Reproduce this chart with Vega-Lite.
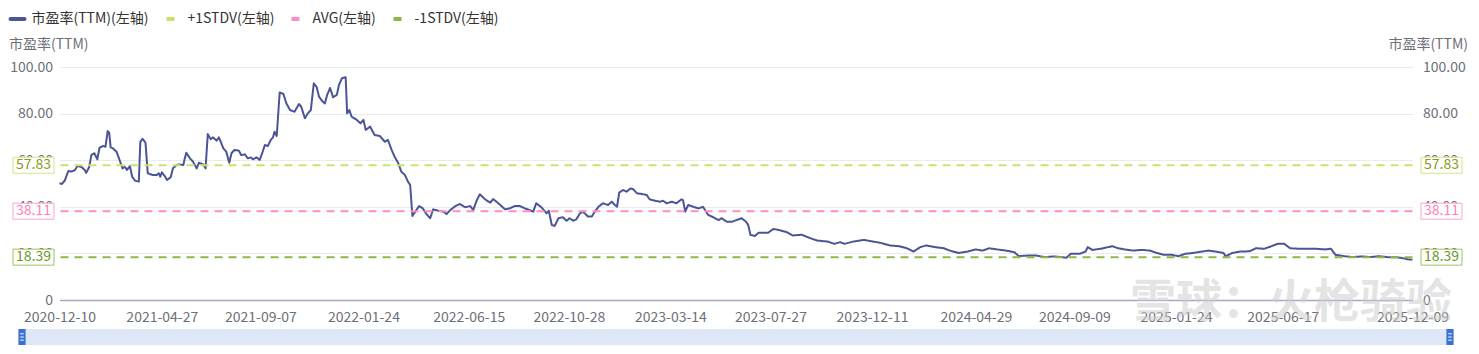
{
  "$schema": "https://vega.github.io/schema/vega-lite/v6.json",
  "padding": {"left": 8, "top": 10, "right": 0, "bottom": 0},
  "background": "white",
  "title": {"text": "雪球：火枪骑验", "orient": "bottom", "anchor": "start", "frame": "group", "offset": 0, "dy": -64, "dx": 1108, "fontSize": 46, "font": "Noto Sans CJK SC", "fontWeight": "bold", "color": "rgba(205,205,205,0.55)", "baseline": "top"},
  "datasets": {
    "pe": [
      {"date":"2020-12-10","pe":50.1},{"date":"2020-12-13","pe":49.8},{"date":"2020-12-17","pe":51.2},{"date":"2020-12-22","pe":55.4},{"date":"2020-12-26","pe":55.1},{"date":"2020-12-31","pe":55.8},
      {"date":"2021-01-03","pe":57.5},{"date":"2021-01-09","pe":57.0},{"date":"2021-01-13","pe":55.8},{"date":"2021-01-15","pe":54.6},{"date":"2021-01-19","pe":57.0},{"date":"2021-01-22","pe":62.2},{"date":"2021-01-26","pe":63.0},{"date":"2021-01-30","pe":60.4},
      {"date":"2021-02-02","pe":65.4},{"date":"2021-02-07","pe":66.1},{"date":"2021-02-10","pe":65.8},{"date":"2021-02-13","pe":72.5},{"date":"2021-02-15","pe":71.8},{"date":"2021-02-17","pe":65.5},{"date":"2021-02-20","pe":65.1},{"date":"2021-02-25","pe":63.6},
      {"date":"2021-03-01","pe":60.1},{"date":"2021-03-05","pe":56.5},{"date":"2021-03-08","pe":57.2},{"date":"2021-03-11","pe":55.8},{"date":"2021-03-15","pe":57.5},{"date":"2021-03-18","pe":52.9},{"date":"2021-03-22","pe":51.2},{"date":"2021-03-27","pe":50.8},{"date":"2021-03-29","pe":67.9},
      {"date":"2021-04-01","pe":69.2},{"date":"2021-04-05","pe":67.5},{"date":"2021-04-08","pe":54.4},{"date":"2021-04-15","pe":53.6},{"date":"2021-04-20","pe":53.6},{"date":"2021-04-23","pe":54.4},{"date":"2021-04-25","pe":52.9},{"date":"2021-04-27","pe":54.8},
      {"date":"2021-05-01","pe":53.2},{"date":"2021-05-04","pe":51.5},{"date":"2021-05-09","pe":52.7},{"date":"2021-05-12","pe":56.5},{"date":"2021-05-17","pe":57.9},{"date":"2021-05-21","pe":58.2},{"date":"2021-05-26","pe":57.9},{"date":"2021-05-28","pe":60.8},{"date":"2021-05-30","pe":63.2},
      {"date":"2021-06-04","pe":60.8},{"date":"2021-06-08","pe":59.4},{"date":"2021-06-13","pe":56.5},{"date":"2021-06-16","pe":58.9},{"date":"2021-06-22","pe":58.2},{"date":"2021-06-25","pe":56.5},{"date":"2021-06-28","pe":71.2},
      {"date":"2021-07-02","pe":69.0},{"date":"2021-07-05","pe":69.8},{"date":"2021-07-10","pe":68.4},{"date":"2021-07-13","pe":69.8},{"date":"2021-07-19","pe":65.1},{"date":"2021-07-23","pe":63.6},{"date":"2021-07-27","pe":58.9},{"date":"2021-07-30","pe":63.0},
      {"date":"2021-08-03","pe":64.4},{"date":"2021-08-09","pe":64.1},{"date":"2021-08-12","pe":62.2},{"date":"2021-08-17","pe":62.5},{"date":"2021-08-21","pe":60.8},{"date":"2021-08-25","pe":61.2},{"date":"2021-08-28","pe":60.4},
      {"date":"2021-09-02","pe":61.2},{"date":"2021-09-06","pe":60.1},{"date":"2021-09-10","pe":63.6},{"date":"2021-09-13","pe":66.5},{"date":"2021-09-17","pe":66.1},{"date":"2021-09-21","pe":68.7},{"date":"2021-09-24","pe":69.8},{"date":"2021-09-26","pe":72.2},{"date":"2021-09-29","pe":70.4},
      {"date":"2021-10-03","pe":89.1},{"date":"2021-10-08","pe":88.4},{"date":"2021-10-12","pe":84.4},{"date":"2021-10-17","pe":81.5},{"date":"2021-10-23","pe":80.8},{"date":"2021-10-29","pe":84.1},
      {"date":"2021-11-01","pe":83.0},{"date":"2021-11-06","pe":78.0},{"date":"2021-11-10","pe":80.1},{"date":"2021-11-14","pe":81.5},{"date":"2021-11-18","pe":93.0},{"date":"2021-11-22","pe":91.3},{"date":"2021-11-25","pe":87.3},{"date":"2021-11-30","pe":85.1},
      {"date":"2021-12-03","pe":84.4},{"date":"2021-12-06","pe":88.0},{"date":"2021-12-10","pe":91.0},{"date":"2021-12-14","pe":87.0},{"date":"2021-12-19","pe":88.0},{"date":"2021-12-22","pe":92.3},{"date":"2021-12-26","pe":95.2},{"date":"2021-12-31","pe":95.6},
      {"date":"2022-01-02","pe":80.1},{"date":"2022-01-05","pe":81.5},{"date":"2022-01-08","pe":78.7},{"date":"2022-01-15","pe":77.3},{"date":"2022-01-20","pe":75.8},{"date":"2022-01-24","pe":77.3},{"date":"2022-01-27","pe":73.0},
      {"date":"2022-02-02","pe":74.4},{"date":"2022-02-08","pe":70.8},{"date":"2022-02-15","pe":70.4},{"date":"2022-02-22","pe":67.9},{"date":"2022-02-26","pe":68.7},
      {"date":"2022-03-03","pe":64.4},{"date":"2022-03-07","pe":61.5},{"date":"2022-03-12","pe":58.7},{"date":"2022-03-16","pe":55.1},{"date":"2022-03-21","pe":53.6},{"date":"2022-03-25","pe":50.8},{"date":"2022-03-28","pe":49.4},{"date":"2022-03-31","pe":36.1},
      {"date":"2022-04-03","pe":37.5},{"date":"2022-04-09","pe":40.3},{"date":"2022-04-14","pe":39.3},{"date":"2022-04-19","pe":36.9},{"date":"2022-04-24","pe":35.1},{"date":"2022-04-28","pe":38.9},
      {"date":"2022-05-05","pe":38.3},{"date":"2022-05-12","pe":37.9},{"date":"2022-05-16","pe":36.9},{"date":"2022-05-21","pe":38.6},{"date":"2022-05-28","pe":40.3},
      {"date":"2022-06-03","pe":41.2},{"date":"2022-06-10","pe":39.8},{"date":"2022-06-17","pe":40.3},{"date":"2022-06-21","pe":38.6},{"date":"2022-06-26","pe":42.9},{"date":"2022-06-30","pe":45.4},
      {"date":"2022-07-07","pe":43.2},{"date":"2022-07-14","pe":41.8},{"date":"2022-07-18","pe":43.3},{"date":"2022-07-25","pe":41.5},
      {"date":"2022-08-03","pe":38.9},{"date":"2022-08-09","pe":39.3},{"date":"2022-08-16","pe":40.3},{"date":"2022-08-23","pe":40.3},{"date":"2022-08-30","pe":39.3},
      {"date":"2022-09-05","pe":38.6},{"date":"2022-09-10","pe":37.9},{"date":"2022-09-14","pe":41.5},{"date":"2022-09-21","pe":39.8},{"date":"2022-09-28","pe":37.2},
      {"date":"2022-10-01","pe":38.3},{"date":"2022-10-05","pe":32.2},{"date":"2022-10-09","pe":31.8},{"date":"2022-10-14","pe":35.1},{"date":"2022-10-20","pe":35.5},{"date":"2022-10-25","pe":34.0},{"date":"2022-10-29","pe":35.1},
      {"date":"2022-11-03","pe":34.0},{"date":"2022-11-07","pe":34.6},{"date":"2022-11-12","pe":37.2},{"date":"2022-11-16","pe":37.9},{"date":"2022-11-23","pe":35.8},{"date":"2022-11-28","pe":35.8},
      {"date":"2022-12-02","pe":37.9},{"date":"2022-12-07","pe":40.0},{"date":"2022-12-13","pe":41.5},{"date":"2022-12-20","pe":40.8},{"date":"2022-12-25","pe":42.2},{"date":"2022-12-29","pe":40.8},
      {"date":"2023-01-01","pe":40.0},{"date":"2023-01-04","pe":46.1},{"date":"2023-01-09","pe":47.2},{"date":"2023-01-14","pe":46.5},{"date":"2023-01-19","pe":47.9},{"date":"2023-01-23","pe":47.5},{"date":"2023-01-28","pe":45.8},
      {"date":"2023-02-03","pe":45.5},{"date":"2023-02-10","pe":45.1},{"date":"2023-02-14","pe":43.2},{"date":"2023-02-21","pe":42.6},{"date":"2023-02-28","pe":42.2},
      {"date":"2023-03-04","pe":42.6},{"date":"2023-03-09","pe":41.5},{"date":"2023-03-16","pe":42.2},{"date":"2023-03-22","pe":41.5},{"date":"2023-03-29","pe":43.2},{"date":"2023-03-31","pe":42.9},
      {"date":"2023-04-03","pe":37.9},{"date":"2023-04-07","pe":40.8},{"date":"2023-04-14","pe":40.0},{"date":"2023-04-21","pe":39.3},{"date":"2023-04-27","pe":40.0},
      {"date":"2023-05-04","pe":36.5},{"date":"2023-05-11","pe":35.5},{"date":"2023-05-18","pe":34.3},{"date":"2023-05-22","pe":35.1},{"date":"2023-05-29","pe":33.6},
      {"date":"2023-06-05","pe":33.6},{"date":"2023-06-11","pe":34.3},{"date":"2023-06-18","pe":35.1},{"date":"2023-06-24","pe":33.6},{"date":"2023-06-27","pe":32.2},{"date":"2023-06-30","pe":27.9},
      {"date":"2023-07-06","pe":27.5},{"date":"2023-07-11","pe":28.9},{"date":"2023-07-17","pe":28.9},{"date":"2023-07-24","pe":28.9},{"date":"2023-07-31","pe":30.5},
      {"date":"2023-08-08","pe":30.0},{"date":"2023-08-18","pe":29.1},{"date":"2023-08-26","pe":27.7},{"date":"2023-09-07","pe":28.0},{"date":"2023-09-19","pe":26.5},{"date":"2023-09-28","pe":25.5},
      {"date":"2023-10-12","pe":25.1},{"date":"2023-10-21","pe":24.1},{"date":"2023-10-29","pe":24.8},{"date":"2023-11-04","pe":24.1},{"date":"2023-11-16","pe":25.1},{"date":"2023-11-30","pe":25.8},
      {"date":"2023-12-12","pe":25.1},{"date":"2023-12-23","pe":24.5},{"date":"2024-01-04","pe":23.4},{"date":"2024-01-16","pe":23.1},{"date":"2024-01-27","pe":22.2},
      {"date":"2024-02-05","pe":20.8},{"date":"2024-02-14","pe":22.7},{"date":"2024-02-22","pe":23.4},{"date":"2024-03-05","pe":22.7},{"date":"2024-03-17","pe":22.2},{"date":"2024-03-25","pe":21.2},
      {"date":"2024-04-06","pe":20.2},{"date":"2024-04-18","pe":20.8},{"date":"2024-04-29","pe":21.7},{"date":"2024-05-08","pe":21.2},{"date":"2024-05-17","pe":22.2},{"date":"2024-05-28","pe":21.7},
      {"date":"2024-06-09","pe":21.2},{"date":"2024-06-20","pe":20.5},{"date":"2024-06-26","pe":18.8},{"date":"2024-07-08","pe":19.1},{"date":"2024-07-19","pe":19.1},{"date":"2024-07-31","pe":18.4},
      {"date":"2024-08-12","pe":18.7},{"date":"2024-08-23","pe":18.4},{"date":"2024-08-29","pe":18.1},{"date":"2024-09-04","pe":19.8},{"date":"2024-09-16","pe":19.8},{"date":"2024-09-24","pe":20.8},{"date":"2024-09-27","pe":22.7},
      {"date":"2024-10-03","pe":21.5},{"date":"2024-10-15","pe":22.0},{"date":"2024-10-30","pe":23.1},{"date":"2024-11-07","pe":22.2},{"date":"2024-11-16","pe":21.7},{"date":"2024-11-27","pe":21.2},
      {"date":"2024-12-09","pe":21.5},{"date":"2024-12-20","pe":21.2},{"date":"2024-12-29","pe":20.2},{"date":"2025-01-07","pe":19.4},{"date":"2025-01-18","pe":19.4},{"date":"2025-01-27","pe":18.8},
      {"date":"2025-02-05","pe":19.8},{"date":"2025-02-16","pe":20.2},{"date":"2025-02-28","pe":20.8},{"date":"2025-03-09","pe":21.2},{"date":"2025-03-18","pe":20.8},{"date":"2025-03-29","pe":20.2},
      {"date":"2025-04-01","pe":18.8},{"date":"2025-04-10","pe":20.2},{"date":"2025-04-21","pe":20.8},{"date":"2025-05-03","pe":20.9},{"date":"2025-05-12","pe":22.2},{"date":"2025-05-23","pe":22.0},
      {"date":"2025-06-01","pe":23.0},{"date":"2025-06-10","pe":24.1},{"date":"2025-06-19","pe":24.1},{"date":"2025-06-27","pe":22.2},{"date":"2025-07-09","pe":22.0},{"date":"2025-07-20","pe":22.0},
      {"date":"2025-08-01","pe":22.0},{"date":"2025-08-13","pe":21.7},{"date":"2025-08-21","pe":22.0},{"date":"2025-08-27","pe":19.4},{"date":"2025-09-08","pe":18.8},{"date":"2025-09-19","pe":18.4},
      {"date":"2025-10-01","pe":18.7},{"date":"2025-10-13","pe":18.4},{"date":"2025-10-25","pe":18.8},{"date":"2025-11-05","pe":18.4},{"date":"2025-11-16","pe":18.4},{"date":"2025-11-25","pe":18.0},
      {"date":"2025-12-04","pe":17.4},{"date":"2025-12-09","pe":17.3}
    ],
    "ref": [
      {"series": "+1STDV(左轴)", "value": 57.83},
      {"series": "AVG(左轴)", "value": 38.11},
      {"series": "-1STDV(左轴)", "value": 18.39}
    ]
  },
  "config": {
    "view": {"stroke": null},
    "font": "Noto Sans CJK SC",
    "axis": {"labelFont": "Noto Sans CJK SC", "titleFont": "Noto Sans CJK SC", "labelColor": "#6e7079", "titleColor": "#6e7079", "labelFontSize": 14, "titleFontSize": 14, "titleFontWeight": "normal"},
    "legend": {
      "orient": "none", "legendX": -13.5, "legendY": -57, "direction": "horizontal",
      "symbolType": "stroke", "symbolSize": 196, "symbolStrokeWidth": 4,
      "labelFont": "Noto Sans CJK SC", "labelFontSize": 14, "labelColor": "#333333",
      "labelOffset": 5, "columnPadding": 9, "padding": 0, "title": null
    }
  },
  "spacing": 29,
  "bounds": "flush",
  "center": true,
  "vconcat": [
    {
      "width": 1353,
      "height": 233,
      "resolve": {"axis": {"y": "independent"}},
      "layer": [
        {
          "data": {"name": "pe"},
          "mark": {"type": "line", "strokeWidth": 2, "strokeJoin": "round"},
          "encoding": {
            "x": {
              "field": "date", "type": "temporal",
              "scale": {"domain": ["2020-12-10", "2025-12-09"], "nice": false},
              "axis": {
                "title": null, "format": "%Y-%m-%d", "labelOverlap": false, "labelFlush": false,
                "values": ["2020-12-10", "2021-04-27", "2021-09-07", "2022-01-24", "2022-06-15", "2022-10-28", "2023-03-14", "2023-07-27", "2023-12-11", "2024-04-29", "2024-09-09", "2025-01-24", "2025-06-17", "2025-12-09"],
                "ticks": false, "grid": false, "domainColor": "#a6a9c2", "domainWidth": 1.5, "labelPadding": 10
              }
            },
            "y": {
              "field": "pe", "type": "quantitative",
              "scale": {"domain": [0, 100], "nice": false},
              "axis": {
                "orient": "left", "title": "市盈率(TTM)", "titleAngle": 0, "titleAlign": "left", "titleBaseline": "middle",
                "titleX": -51, "titleY": -23, "values": [0, 20, 40, 60, 80, 100],
                "labelExpr": "datum.value == 0 ? '0' : format(datum.value, '.2f')",
                "ticks": false, "domain": false, "labelPadding": 7, "grid": true, "gridColor": "#e9ebf3", "gridWidth": 1
              }
            },
            "color": {
              "datum": "市盈率(TTM)(左轴)",
              "scale": {
                "domain": ["市盈率(TTM)(左轴)", "+1STDV(左轴)", "AVG(左轴)", "-1STDV(左轴)"],
                "range": ["#4b5596", "#cbe268", "#ff8cc4", "#8fb743"]
              },
              "legend": {
                "encode": {
                  "symbols": {"update": {"strokeDash": {"signal": "datum.value == '市盈率(TTM)(左轴)' ? [1, 0] : [5, 4]"}, "strokeCap": {"signal": "datum.value == '市盈率(TTM)(左轴)' ? 'round' : 'butt'"}}}
                }
              }
            },
            "strokeDash": {
              "datum": "市盈率(TTM)(左轴)",
              "scale": {
                "domain": ["市盈率(TTM)(左轴)", "+1STDV(左轴)", "AVG(左轴)", "-1STDV(左轴)"],
                "range": [[1, 0], [8, 6], [8, 6], [8, 6]]
              },
              "legend": null
            }
          }
        },
        {
          "data": {"name": "ref"},
          "mark": {"type": "rule", "strokeWidth": 2},
          "encoding": {
            "y": {
              "field": "value", "type": "quantitative",
              "axis": {
                "orient": "right", "title": "市盈率(TTM)", "titleAngle": 0, "titleAlign": "right", "titleBaseline": "middle",
                "titleX": 55, "titleY": -23, "values": [0, 20, 40, 60, 80, 100],
                "labelExpr": "datum.value == 0 ? '0' : format(datum.value, '.2f')",
                "ticks": false, "domain": false, "labelPadding": 10, "grid": false
              }
            },
            "color": {"field": "series", "type": "nominal"},
            "strokeDash": {"field": "series", "type": "nominal", "legend": null}
          }
        },
        {
          "data": {"name": "ref"},
          "mark": {"type": "point", "shape": "M-2.05,-0.8H2.05V0.8H-2.05Z", "size": 400, "filled": false, "fill": "white", "fillOpacity": 1, "strokeWidth": 1, "opacity": 1, "xOffset": -26},
          "encoding": {
            "x": {"value": 0},
            "y": {"field": "value", "type": "quantitative", "axis": null},
            "stroke": {"condition": [{"test": "datum.series == '+1STDV(左轴)'", "value": "#d3e47f"}, {"test": "datum.series == 'AVG(左轴)'", "value": "#ffa2cf"}], "value": "#9cc45c"}
          }
        },
        {
          "data": {"name": "ref"},
          "mark": {"type": "text", "fontSize": 14, "font": "Noto Sans CJK SC", "xOffset": -26, "align": "center", "baseline": "middle"},
          "encoding": {
            "x": {"value": 0},
            "y": {"field": "value", "type": "quantitative", "axis": null},
            "text": {"field": "value", "type": "quantitative", "format": ".2f"},
            "color": {"condition": [{"test": "datum.series == '+1STDV(左轴)'", "value": "#869c22"}, {"test": "datum.series == 'AVG(左轴)'", "value": "#ff7fb8"}], "value": "#6b9a22"}
          }
        },
        {
          "data": {"name": "ref"},
          "mark": {"type": "point", "shape": "M-2.05,-0.8H2.05V0.8H-2.05Z", "size": 400, "filled": false, "fill": "white", "fillOpacity": 1, "strokeWidth": 1, "opacity": 1, "xOffset": 29},
          "encoding": {
            "x": {"value": "width"},
            "y": {"field": "value", "type": "quantitative", "axis": null},
            "stroke": {"condition": [{"test": "datum.series == '+1STDV(左轴)'", "value": "#d3e47f"}, {"test": "datum.series == 'AVG(左轴)'", "value": "#ffa2cf"}], "value": "#9cc45c"}
          }
        },
        {
          "data": {"name": "ref"},
          "mark": {"type": "text", "fontSize": 14, "font": "Noto Sans CJK SC", "xOffset": 29, "align": "center", "baseline": "middle"},
          "encoding": {
            "x": {"value": "width"},
            "y": {"field": "value", "type": "quantitative", "axis": null},
            "text": {"field": "value", "type": "quantitative", "format": ".2f"},
            "color": {"condition": [{"test": "datum.series == '+1STDV(左轴)'", "value": "#869c22"}, {"test": "datum.series == 'AVG(左轴)'", "value": "#ff7fb8"}], "value": "#6b9a22"}
          }
        }
      ]
    },
    {
      "width": 1428,
      "height": 16,
      "data": {"name": "pe"},
      "layer": [
        {
          "mark": {"type": "rect", "color": "#dfe7f7"},
          "encoding": {
            "x": {"aggregate": "min", "field": "date", "type": "temporal", "axis": null, "scale": {"nice": false}},
            "x2": {"aggregate": "max", "field": "date"}
          }
        },
        {
          "transform": [{"aggregate": [{"op": "min", "field": "date", "as": "d"}, {"op": "max", "field": "date", "as": "e"}]}, {"fold": ["d", "e"], "as": ["k", "v"]}],
          "mark": {"type": "point", "shape": "M-0.45,-1H0.45V1H-0.45Z", "size": 256, "filled": true, "color": "#3b70d8", "opacity": 1},
          "encoding": {
            "x": {"field": "v", "type": "temporal", "axis": null}
          }
        },
        {
          "transform": [{"aggregate": [{"op": "min", "field": "date", "as": "d"}, {"op": "max", "field": "date", "as": "e"}]}, {"fold": ["d", "e"], "as": ["k", "v"]}],
          "mark": {"type": "point", "shape": "M-0.22,-0.4H0.22M-0.22,0H0.22M-0.22,0.4H0.22", "size": 256, "filled": false, "color": "white", "strokeWidth": 1, "opacity": 1},
          "encoding": {
            "x": {"field": "v", "type": "temporal", "axis": null}
          }
        }
      ]
    }
  ]
}
